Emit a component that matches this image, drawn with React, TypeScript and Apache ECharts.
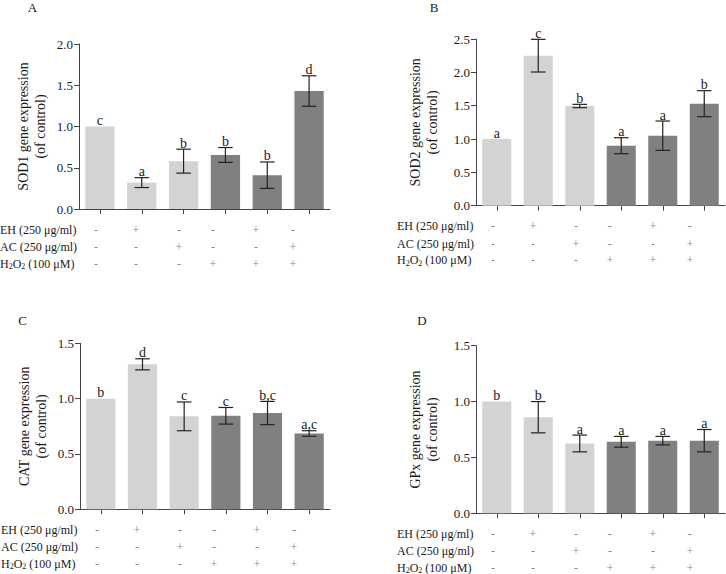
import React, { useEffect, useRef } from "react";
import * as echarts from "echarts";

// ---- data ----
const categories = ["1", "2", "3", "4", "5", "6"];

const sod1Mean = [1.0, 0.32, 0.58, 0.655, 0.41, 1.43];
const sod1Err = [0, 0.06, 0.145, 0.09, 0.16, 0.185];
const sod1Letters = ["c", "a", "b", "b", "b", "d"];

const sod2Mean = [1.0, 2.25, 1.495, 0.9, 1.05, 1.53];
const sod2Err = [0, 0.245, 0.025, 0.12, 0.22, 0.195];
const sod2Letters = ["a", "c", "b", "a", "a", "b"];

const catMean = [1.0, 1.31, 0.84, 0.845, 0.87, 0.685];
const catErr = [0, 0.05, 0.13, 0.075, 0.105, 0.025];
const catLetters = ["b", "d", "c", "c", "b,c", "a,c"];

const gpxMean = [1.0, 0.86, 0.625, 0.64, 0.65, 0.65];
const gpxErr = [0, 0.14, 0.075, 0.048, 0.038, 0.1];
const gpxLetters = ["b", "b", "a", "a", "a", "a"];

const ehRow = ["-", "+", "-", "-", "+", "-"];
const acRow = ["-", "-", "+", "-", "-", "+"];
const h2o2Row = ["-", "-", "-", "+", "+", "+"];
const rowLabels = [
  "EH (250 μg/ml)",
  "AC (250 μg/ml)",
  "{n|H}{s|2}{n|O}{s|2}{n| (100 μM)}",
];

const yMax = [2.0, 2.5, 1.5, 1.5];
const yNames = [
  "SOD1 gene expression\n(of control)",
  "SOD2 gene expression\n(of control)",
  "CAT gene expression\n(of control)",
  "GPx gene expression\n(of control)",
];
const panelLetters = ["A", "B", "C", "D"];

// ---- layout / style ----
const FONT = "Liberation Serif";
const LIGHT = "#d3d3d3";
const DARK = "#808080";
const AXIS = "#444";
const TEXT = "#1a1a1a";

const panels = [
  { left: 79, top: 44, width: 251, height: 165, nameGap: 30, letter: [32.5, 7.5] },
  { left: 476, top: 39, width: 249, height: 166.7, nameGap: 35, letter: [434, 7.5] },
  { left: 80, top: 343.3, width: 250, height: 166, nameGap: 30, letter: [22.5, 320] },
  { left: 476, top: 345.7, width: 249, height: 167.6, nameGap: 35, letter: [422, 320] },
];
const colOffsets = [17, 57, 100, 134, 177, 214];
const rowOffsets = [20.5, 38, 54.5];
const labelOffset = -79;

const means = [sod1Mean, sod2Mean, catMean, gpxMean];
const errs = [sod1Err, sod2Err, catErr, gpxErr];
const letters = [sod1Letters, sod2Letters, catLetters, gpxLetters];
const rows = [ehRow, acRow, h2o2Row];

export default function App() {
  const ref = useRef<HTMLDivElement>(null);

  useEffect(() => {
    if (!ref.current) return;
    const chart = echarts.init(ref.current, null, { renderer: "svg" });

    const grid = panels.map((p) => ({
      left: p.left,
      top: p.top,
      width: p.width,
      height: p.height,
      containLabel: false,
    }));

    const xAxis = panels.map((_, i) => ({
      type: "category",
      gridIndex: i,
      data: categories,
      axisLine: { show: true, lineStyle: { color: AXIS, width: 1 } },
      axisTick: { show: true, alignWithLabel: true, length: 5, lineStyle: { color: AXIS } },
      axisLabel: { show: false },
    }));

    const yAxis = panels.map((p, i) => ({
      type: "value",
      gridIndex: i,
      min: 0,
      max: yMax[i],
      interval: 0.5,
      name: yNames[i],
      nameLocation: "middle",
      nameRotate: 90,
      nameGap: p.nameGap,
      nameTextStyle: { fontFamily: FONT, fontSize: 14, lineHeight: 17, color: TEXT },
      axisLine: { show: true, lineStyle: { color: AXIS, width: 1 } },
      axisTick: { show: true, length: 5, lineStyle: { color: AXIS } },
      axisLabel: {
        fontFamily: FONT,
        fontSize: 13,
        color: TEXT,
        margin: 6,
        formatter: (v: number) => v.toFixed(1),
      },
      splitLine: { show: false },
    }));

    const series: any[] = [];
    panels.forEach((_, i) => {
      series.push({
        type: "bar",
        xAxisIndex: i,
        yAxisIndex: i,
        barWidth: "70%",
        data: means[i].map((v, k) => ({
          value: v,
          itemStyle: { color: k < 3 ? LIGHT : DARK },
        })),
      });
      const lt = letters[i];
      series.push({
        type: "custom",
        xAxisIndex: i,
        yAxisIndex: i,
        clip: false,
        z: 5,
        itemStyle: { color: TEXT },
        data: means[i].map((v, k) => [k, v, errs[i][k]]),
        renderItem: (params: any, api: any) => {
          const x = api.value(0);
          const y = api.value(1);
          const e = api.value(2);
          const top = api.coord([x, y + e]);
          const bot = api.coord([x, y - e]);
          const hw = 7.3;
          const st = { stroke: "#222", lineWidth: 1.2 };
          const children: any[] = [];
          if (e > 0) {
            children.push(
              { type: "line", shape: { x1: top[0], y1: top[1], x2: bot[0], y2: bot[1] }, style: st },
              { type: "line", shape: { x1: top[0] - hw, y1: top[1], x2: top[0] + hw, y2: top[1] }, style: st },
              { type: "line", shape: { x1: bot[0] - hw, y1: bot[1], x2: bot[0] + hw, y2: bot[1] }, style: st }
            );
          }
          children.push({
            type: "text",
            x: top[0],
            y: top[1] + 1,
            style: {
              text: lt[params.dataIndex],
              font: `14px "${FONT}"`,
              fill: TEXT,
              stroke: "none",
              align: "center",
              verticalAlign: "bottom",
            },
          });
          return { type: "group", children };
        },
      });
    });

    const graphic: any[] = [];
    panels.forEach((p, i) => {
      graphic.push({
        type: "text",
        x: p.letter[0],
        y: p.letter[1],
        style: {
          text: panelLetters[i],
          fontFamily: FONT,
          fontSize: 13,
          fill: TEXT,
          align: "center",
          verticalAlign: "middle",
        },
      });
      const bottom = p.top + p.height;
      rows.forEach((row, r) => {
        const y = bottom + rowOffsets[r];
        graphic.push({
          type: "text",
          x: p.left + labelOffset,
          y,
          style: {
            text: rowLabels[r],
            fontFamily: FONT,
            fontSize: 12,
            fill: TEXT,
            align: "left",
            verticalAlign: "middle",
            rich: {
              n: { fontFamily: FONT, fontSize: 12, fill: TEXT, lineHeight: 14 },
              s: { fontFamily: FONT, fontSize: 8, fill: TEXT, lineHeight: 10, verticalAlign: "bottom", padding: [4, 0, 0, 0] },
            },
          },
        });
        row.forEach((m, c) => {
          graphic.push({
            type: "text",
            x: p.left + colOffsets[c],
            y,
            style: {
              text: m,
              fontFamily: FONT,
              fontSize: 12,
              fill: "#8a8a8a",
              align: "center",
              verticalAlign: "middle",
            },
          });
        });
      });
    });

    chart.setOption({
      animation: false,
      backgroundColor: "#ffffff",
      grid,
      xAxis,
      yAxis,
      series,
      graphic,
    });

    return () => chart.dispose();
  }, []);

  return (
    <div
      ref={ref}
      style={{ position: "absolute", left: 0, top: 0, width: 726, height: 574 }}
    />
  );
}
